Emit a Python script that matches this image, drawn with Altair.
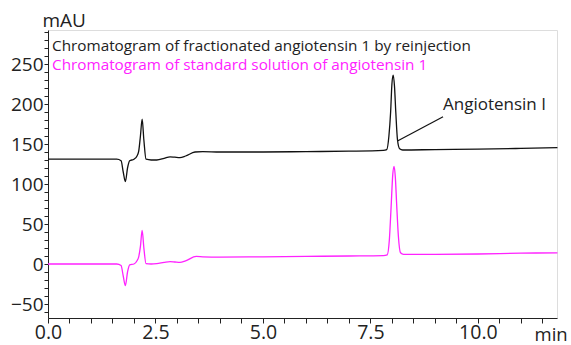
import altair as alt
import pandas as pd

# Black trace: fractionated angiotensin 1 by reinjection
black_t = [0.0, 1.0, 1.60, 1.70, 1.75, 1.80, 1.85, 1.90, 2.00, 2.07, 2.11, 2.15, 2.19, 2.23, 2.28,
           2.40, 2.53, 2.70, 2.84, 2.95, 3.07, 3.20, 3.42, 3.60, 4.0, 5.0, 6.0, 7.0, 7.80, 7.88,
           7.93, 7.97, 8.00, 8.03, 8.06, 8.09, 8.13, 8.18, 8.25, 9.0, 10.0, 11.0, 11.85]
black_v = [131, 131, 131, 129, 115, 103, 120, 129, 131, 135, 141, 160, 181, 155, 131,
           130, 130, 132, 134, 133.5, 133, 135, 140, 140.5, 140, 140, 140.5, 141, 142, 143,
           160, 190, 225, 236, 222, 190, 155, 144, 142.5, 143, 143.5, 144.5, 145.5]

# Magenta trace: standard solution of angiotensin 1
pink_t = [0.0, 1.0, 1.60, 1.70, 1.75, 1.80, 1.85, 1.90, 2.00, 2.07, 2.11, 2.15, 2.19, 2.23, 2.28,
          2.40, 2.53, 2.70, 2.84, 2.95, 3.07, 3.20, 3.45, 3.60, 4.0, 5.0, 6.0, 7.0, 7.80, 7.89,
          7.94, 7.98, 8.02, 8.05, 8.08, 8.11, 8.15, 8.20, 8.27, 9.0, 10.0, 11.0, 11.85]
pink_v = [0, 0, 0, -2, -15, -27, -10, -1, 0, 4, 9, 22, 42, 20, 0.5,
          0, 0.5, 2, 3, 2.5, 2, 4, 9.5, 9, 8.5, 9, 9.5, 10, 10.5, 11.5,
          30, 70, 112, 122, 108, 75, 35, 14, 12, 12, 12.5, 13.5, 14]

# Annotation leader line (data coordinates)
annot_t = [8.14, 9.19]
annot_v = [154, 184]

legend_texts = ["Chromatogram of fractionated angiotensin 1 by reinjection",
                "Chromatogram of standard solution of angiotensin 1"]
peak_label = "Angiotensin I"

x_ticks = [i * 0.5 for i in range(0, 24)]
y_ticks = list(range(-60, 291, 10))

FONT = "Open Sans"

df = pd.concat([
    pd.DataFrame({"t": black_t, "v": black_v, "s": "black"}),
    pd.DataFrame({"t": pink_t, "v": pink_v, "s": "pink"}),
])

xscale = alt.Scale(domain=[0, 11.84], nice=False, zero=False)
yscale = alt.Scale(domain=[-67.5, 292.5], nice=False, zero=False)

xaxis = alt.Axis(values=x_ticks, labelExpr="(datum.value * 2) % 5 == 0 ? format(datum.value, '.1f') : ''",
                 title="min", titleAngle=0, titleX=486, titleY=22, titleAlign="left",
                 titleBaseline="alphabetic", titleFont=FONT, titleFontSize=18.5, titleFontWeight="normal",
                 titleColor="#222", labelFont=FONT, labelFontSize=19.5, labelColor="#222",
                 tickSize=5, tickColor="#222", domainColor="#222", grid=False, labelPadding=0,
                 labelFlush=False, labelOverlap=False, labelBound=False)
yaxis = alt.Axis(values=y_ticks, labelExpr="datum.value % 50 == 0 ? format(datum.value, 'd') : ''",
                 title="mAU", titleAngle=0, titleX=-6, titleY=-4, titleAlign="left",
                 titleBaseline="alphabetic", titleFont=FONT, titleFontSize=19, titleFontWeight="normal",
                 titleColor="#222", labelFont=FONT, labelFontSize=19, labelColor="#222",
                 tickSize=4, tickColor="#222", domainColor="#222", grid=False, labelPadding=1,
                 labelOverlap=False, labelBound=False)

lines = alt.Chart(df).mark_line(strokeWidth=1.3, interpolate="monotone").encode(
    x=alt.X("t:Q", scale=xscale, axis=xaxis),
    y=alt.Y("v:Q", scale=yscale, axis=yaxis),
    color=alt.Color("s:N", scale=alt.Scale(domain=["black", "pink"], range=["#111111", "#ff22ff"]), legend=None),
    detail="s:N",
)

annot = alt.Chart(pd.DataFrame({"t": annot_t, "v": annot_v})).mark_line(color="#111", strokeWidth=1.2).encode(
    x=alt.X("t:Q", scale=xscale, axis=xaxis), y=alt.Y("v:Q", scale=yscale, axis=yaxis))

t1 = alt.Chart(pd.DataFrame({"txt": [legend_texts[0]]})).mark_text(
    align="left", baseline="middle", font=FONT, fontSize=15.3, color="#222").encode(
    x=alt.value(4), y=alt.value(16), text="txt:N")
t2 = alt.Chart(pd.DataFrame({"txt": [legend_texts[1]]})).mark_text(
    align="left", baseline="middle", font=FONT, fontSize=15.3, color="#ff22ff").encode(
    x=alt.value(4), y=alt.value(35), text="txt:N")
t3 = alt.Chart(pd.DataFrame({"txt": [peak_label]})).mark_text(
    align="left", baseline="middle", font=FONT, fontSize=17, color="#222").encode(
    x=alt.value(395), y=alt.value(75), text="txt:N")

chart = alt.layer(lines, annot, t1, t2, t3).properties(
    width=509, height=288,
    autosize=alt.AutoSizeParams(type="none"),
    padding={"left": 48, "top": 30, "right": 14, "bottom": 27},
).configure_view(stroke="#222", strokeWidth=1).configure(background="white")

chart.save("out.html", embed_options={"renderer": "svg", "actions": False})
